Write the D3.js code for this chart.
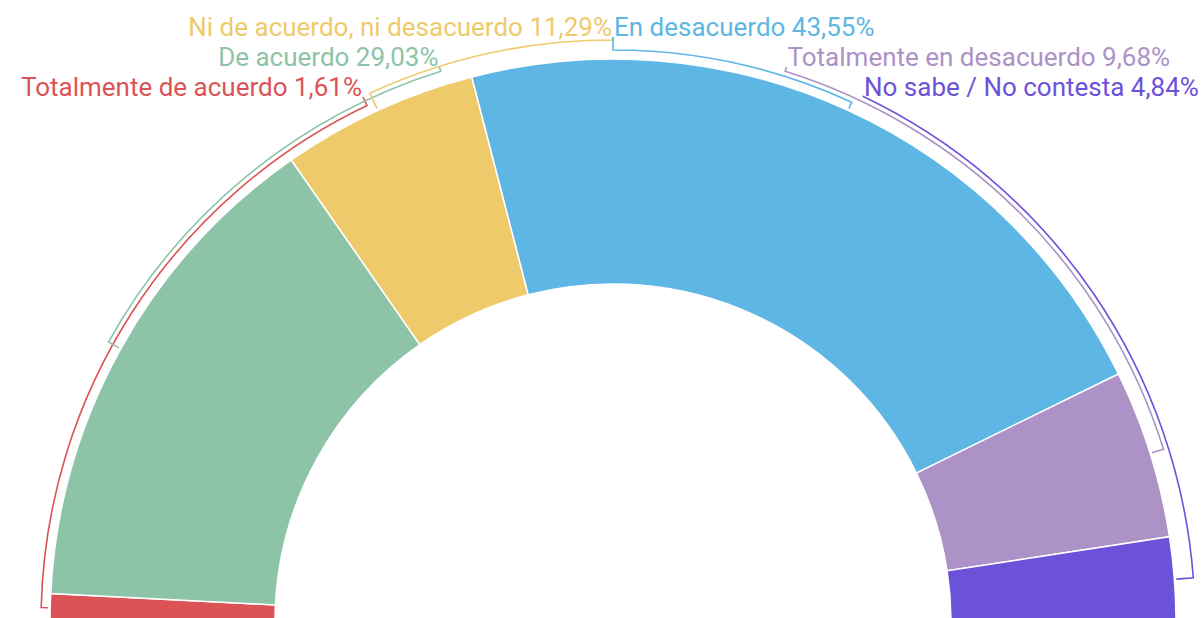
<!DOCTYPE html>
<html>
<head>
<meta charset="utf-8">
<script src="https://cdn.jsdelivr.net/npm/d3@7"></script>
<style>
  html, body { margin: 0; padding: 0; background: #ffffff; }
  svg { display: block; }
  text { font-family: Roboto, "Noto Sans", sans-serif; }
</style>
</head>
<body>
<svg id="chart" width="1202" height="618"></svg>
<script>
// ---- data ----
const categories = [
  "Totalmente de acuerdo",
  "De acuerdo",
  "Ni de acuerdo, ni desacuerdo",
  "En desacuerdo",
  "Totalmente en desacuerdo",
  "No sabe / No contesta"
];
const values = [1.61, 29.03, 11.29, 43.55, 9.68, 4.84];
const colors = ["#dc5356", "#8dc3a7", "#efca6b", "#5eb6e4", "#ac92c6", "#6c52d9"];

// ---- layout ----
const W = 1202, H = 618;
const cx = 613, cy = 622;
const outerR = 563, innerR = 338;
const bracketR = [572, 577, 582];   // by level
const tickInnerR = outerR + 2;
const labelR = 581.5;
const rowY = [97, 67, 37];          // by row index (0 bottom .. 2 top)
const fontSize = 26;

const svg = d3.select("#chart");
const g = svg.append("g").attr("transform", `translate(${cx},${cy})`);

const data = categories.map((c, i) => ({ name: c, value: values[i], color: colors[i], i }));

const pie = d3.pie()
  .value(d => d.value)
  .sort(null)
  .startAngle(-Math.PI / 2)
  .endAngle(Math.PI / 2);

const arcs = pie(data);
const arcGen = d3.arc().innerRadius(innerR).outerRadius(outerR);

g.selectAll("path.slice")
  .data(arcs)
  .join("path")
  .attr("class", "slice")
  .attr("d", arcGen)
  .attr("fill", d => d.data.color)
  .attr("stroke", "#ffffff")
  .attr("stroke-width", 1.5);

const fmt = v => d3.format(".2f")(v).replace(".", ",") + "%";

// split into left/right halves
const half = Math.ceil(arcs.length / 2);
arcs.forEach((a, k) => {
  const left = k < half;
  const level = left ? k : k - half;
  const row = left ? level : (arcs.length - 1 - k);
  a.left = left;
  a.level = level;
  a.row = row;
});

function pt(r, ang) { return [r * Math.sin(ang), -r * Math.cos(ang)]; }

arcs.forEach(a => {
  const mid = (a.startAngle + a.endAngle) / 2;
  const rb = bracketR[a.level];
  const ay = rowY[a.row] - cy; // relative
  const dyAbs = -ay;
  const dx = Math.sqrt(Math.max(0, labelR * labelR - dyAbs * dyAbs));
  const ax = a.left ? -dx : dx;
  const labAng = Math.atan2(ax, -ay);

  const p0 = [ax, ay];
  const p1 = pt(rb, labAng);
  const p2 = pt(rb, mid);
  const p3 = pt(tickInnerR, mid);
  const sweep = mid > labAng ? 1 : 0;
  const path = `M${p0[0]},${p0[1]}L${p1[0]},${p1[1]}A${rb},${rb} 0 0 ${sweep} ${p2[0]},${p2[1]}L${p3[0]},${p3[1]}`;
  g.append("path")
    .attr("d", path)
    .attr("fill", "none")
    .attr("stroke", a.data.color)
    .attr("stroke-width", 1.6);

  g.append("text")
    .attr("x", a.left ? ax - 1 : ax + 1)
    .attr("y", ay - 1)
    .attr("text-anchor", a.left ? "end" : "start")
    .attr("fill", a.data.color)
    .attr("font-size", fontSize)
    .text(`${a.data.name} ${fmt(a.data.value)}`);
});
</script>
</body>
</html>
